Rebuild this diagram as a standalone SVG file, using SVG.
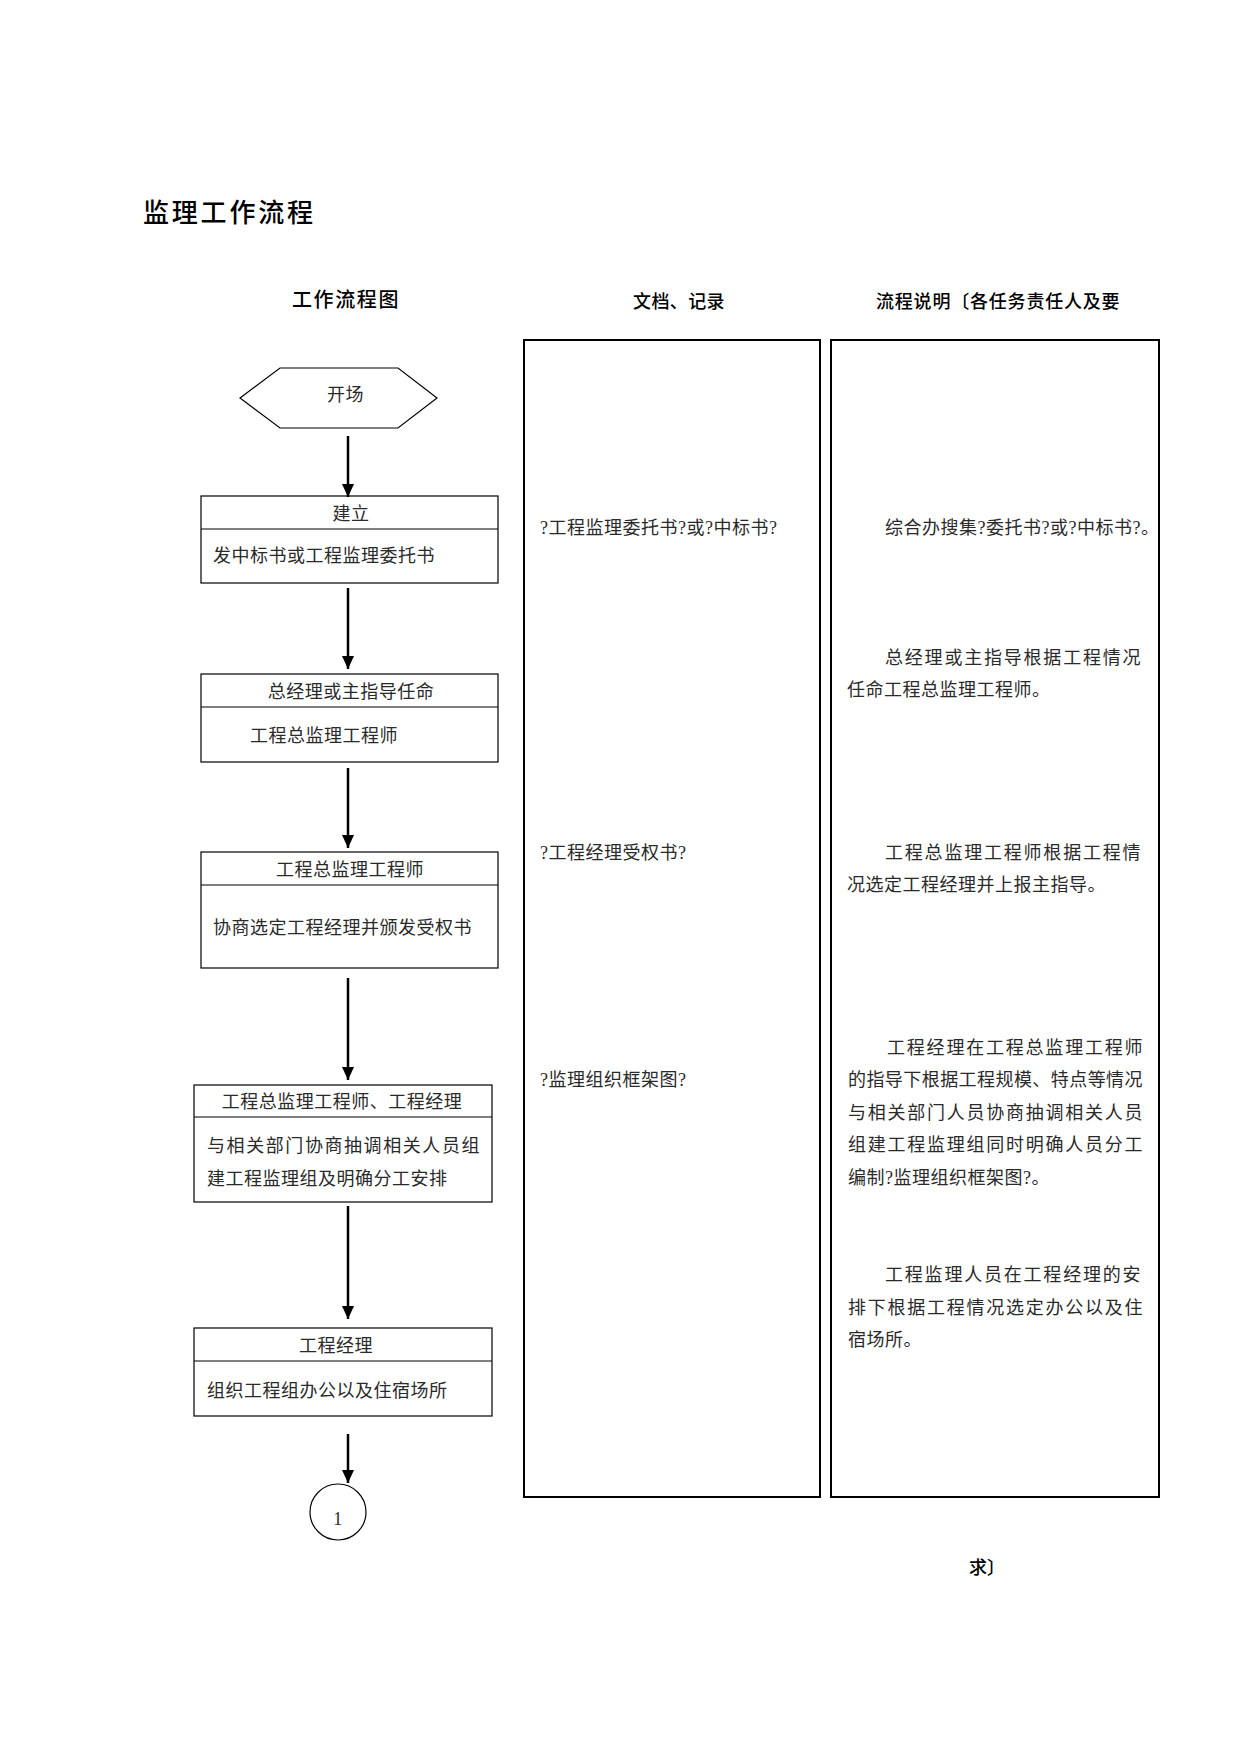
<svg xmlns="http://www.w3.org/2000/svg" width="1241" height="1754" viewBox="0 0 1241 1754">
<style>
.t{font-family:"Liberation Serif","Noto Sans CJK SC",serif;font-size:18px;fill:#2a2a2a;letter-spacing:0.5px}
.h{font-family:"Noto Sans CJK SC",sans-serif;fill:#000;font-weight:500}
.box{fill:none;stroke:#000;stroke-width:1.2}
.col{fill:none;stroke:#000;stroke-width:2}
.conn line{stroke:#000;stroke-width:2.5;marker-end:url(#arr)}
</style>
<defs>
<marker id="arr" markerUnits="userSpaceOnUse" markerWidth="13" markerHeight="12" refX="13" refY="6" orient="auto">
<path d="M0,0 L13,6 L0,12 z" fill="#000"/>
</marker>
</defs>
<rect width="1241" height="1754" fill="#fff"/>

<text class="h" x="143" y="222" font-size="26" letter-spacing="2.8">监理工作流程</text>
<text class="h" x="292" y="307" font-size="20" letter-spacing="1.6">工作流程图</text>
<text class="h" x="633" y="308" font-size="18" letter-spacing="0.4">文档、记录</text>
<text class="h" x="876" y="308" font-size="18" letter-spacing="0.8">流程说明〔各任务责任人及要</text>
<text class="h" x="969" y="1574" font-size="18">求〕</text>

<g id="col-docs">
<rect class="col" x="524" y="340" width="296" height="1157"/>
<text class="t" x="540" y="534">?工程监理委托书?或?中标书?</text>
<text class="t" x="540" y="859">?工程经理受权书?</text>
<text class="t" x="540" y="1086">?监理组织框架图?</text>
</g>

<g id="col-desc">
<rect class="col" x="831" y="340" width="328" height="1157"/>
<text class="t" x="885" y="534">综合办搜集?委托书?或?中标书?。</text>
<text class="t" x="885" y="664" textLength="256" lengthAdjust="spacing">总经理或主指导根据工程情况</text>
<text class="t" x="847" y="696">任命工程总监理工程师。</text>
<text class="t" x="885" y="859" textLength="256" lengthAdjust="spacing">工程总监理工程师根据工程情</text>
<text class="t" x="847" y="891">况选定工程经理并上报主指导。</text>
<text class="t" x="887" y="1054" textLength="256" lengthAdjust="spacing">工程经理在工程总监理工程师</text>
<text class="t" x="848" y="1086" textLength="295" lengthAdjust="spacing">的指导下根据工程规模、特点等情况</text>
<text class="t" x="848" y="1119" textLength="295" lengthAdjust="spacing">与相关部门人员协商抽调相关人员</text>
<text class="t" x="848" y="1151" textLength="295" lengthAdjust="spacing">组建工程监理组同时明确人员分工</text>
<text class="t" x="848" y="1184">编制?监理组织框架图?。</text>
<text class="t" x="885" y="1281" textLength="256" lengthAdjust="spacing">工程监理人员在工程经理的安</text>
<text class="t" x="848" y="1314" textLength="295" lengthAdjust="spacing">排下根据工程情况选定办公以及住</text>
<text class="t" x="848" y="1346">宿场所。</text>
</g>

<g id="start">
<polygon class="box" points="240,398 280,368 398,368 437,398 398,428 280,428"/>
<text class="t" x="327" y="401">开场</text>
</g>

<g id="n1">
<rect class="box" x="201" y="496" width="297" height="87"/>
<line x1="201" y1="529" x2="498" y2="529" stroke="#000" stroke-width="1.2"/>
<text class="t" x="351" y="520" text-anchor="middle">建立</text>
<text class="t" x="213" y="562">发中标书或工程监理委托书</text>
</g>

<g id="n2">
<rect class="box" x="201" y="674" width="297" height="88"/>
<line x1="201" y1="707" x2="498" y2="707" stroke="#000" stroke-width="1.2"/>
<text class="t" x="351" y="698" text-anchor="middle">总经理或主指导任命</text>
<text class="t" x="250" y="742">工程总监理工程师</text>
</g>

<g id="n3">
<rect class="box" x="201" y="852" width="297" height="116"/>
<line x1="201" y1="885" x2="498" y2="885" stroke="#000" stroke-width="1.2"/>
<text class="t" x="350" y="876" text-anchor="middle">工程总监理工程师</text>
<text class="t" x="213" y="934">协商选定工程经理并颁发受权书</text>
</g>

<g id="n4">
<rect class="box" x="194" y="1085" width="298" height="117"/>
<line x1="194" y1="1117" x2="492" y2="1117" stroke="#000" stroke-width="1.2"/>
<text class="t" x="342" y="1108" text-anchor="middle">工程总监理工程师、工程经理</text>
<text class="t" x="207" y="1152" textLength="273" lengthAdjust="spacing">与相关部门协商抽调相关人员组</text>
<text class="t" x="207" y="1185">建工程监理组及明确分工安排</text>
</g>

<g id="n5">
<rect class="box" x="194" y="1328" width="298" height="88"/>
<line x1="194" y1="1361" x2="492" y2="1361" stroke="#000" stroke-width="1.2"/>
<text class="t" x="336" y="1352" text-anchor="middle">工程经理</text>
<text class="t" x="207" y="1397">组织工程组办公以及住宿场所</text>
</g>

<g id="end">
<circle class="box" cx="338" cy="1512" r="28"/>
<text class="t" x="338" y="1525" text-anchor="middle">1</text>
</g>

<g id="connectors" class="conn">
<line x1="348" y1="436" x2="348" y2="497"/>
<line x1="348" y1="588" x2="348" y2="669"/>
<line x1="348" y1="768" x2="348" y2="848"/>
<line x1="348" y1="978" x2="348" y2="1080"/>
<line x1="348" y1="1206" x2="348" y2="1319"/>
<line x1="348" y1="1434" x2="348" y2="1483"/>
</g>
</svg>
